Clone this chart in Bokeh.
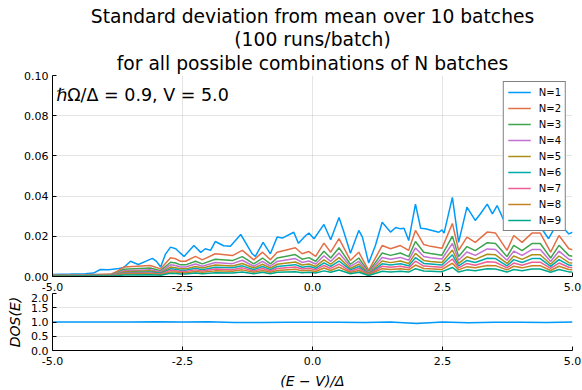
from bokeh.plotting import figure
from bokeh.layouts import column
from bokeh.models import Title, Label, Legend, LegendItem, FixedTicker, NumeralTickFormatter, Range1d
from bokeh.embed import file_html
from bokeh.resources import INLINE

FONT = "DejaVu Sans"

# ---------------- data ----------------
x_n1 = [-5.00, -4.65, -4.37, -4.21, -4.08, -3.92, -3.76, -3.63, -3.50, -3.35, -3.21, -3.08, -3.00,
        -2.92, -2.83, -2.73, -2.63, -2.54, -2.47, -2.28, -2.15, -2.06, -1.96, -1.87, -1.71, -1.58,
        -1.38, -1.29, -1.16, -1.10, -0.95, -0.81, -0.68, -0.58, -0.36, -0.27, -0.13, -0.07, 0.03,
        0.22, 0.35, 0.51, 0.60, 0.73, 0.89, 0.96, 1.08, 1.21, 1.34, 1.50, 1.60, 1.69, 1.76, 1.85,
        1.98, 2.08, 2.17, 2.43, 2.49, 2.53, 2.69, 2.81, 2.97, 3.13, 3.23, 3.36, 3.46, 3.55, 3.68,
        3.81, 3.96, 4.15, 4.35, 4.54, 4.63, 4.74, 4.83, 4.93, 5.00]
n1 = [0.0010, 0.0012, 0.0014, 0.0017, 0.0035, 0.0033, 0.0038, 0.0045, 0.0076, 0.0060, 0.0075, 0.0090, 0.0075,
      0.0047, 0.0110, 0.0146, 0.0138, 0.0116, 0.0100, 0.0154, 0.0120, 0.0138, 0.0130, 0.0174, 0.0153, 0.0150,
      0.0209, 0.0170, 0.0113, 0.0100, 0.0170, 0.0113, 0.0196, 0.0191, 0.0220, 0.0165, 0.0204, 0.0216, 0.0188,
      0.0259, 0.0183, 0.0294, 0.0224, 0.0116, 0.0229, 0.0196, 0.0067, 0.0154, 0.0270, 0.0221, 0.0244, 0.0237, 0.0240, 0.0179,
      0.0360, 0.0240, 0.0238, 0.0220, 0.0232, 0.0216, 0.0394, 0.0170, 0.0345, 0.0279, 0.0312, 0.0360, 0.0312, 0.0353, 0.0279,
      0.0300, 0.0240, 0.0310, 0.0260, 0.0188, 0.0230, 0.0303, 0.0240, 0.0212, 0.0220]

x_n = [-5.00, -4.37, -3.88, -3.76, -3.63, -3.12, -2.92, -2.73, -2.63, -2.54, -2.44, -2.25, -2.12, -1.87,
       -1.54, -1.35, -1.13, -0.96, -0.81, -0.68, -0.33, -0.20, -0.07, 0.06, 0.22, 0.35, 0.51, 0.73, 0.89,
       1.08, 1.34, 1.50, 1.69, 1.85, 1.98, 2.14, 2.27, 2.49, 2.69, 2.81, 2.97, 3.13, 3.36, 3.52, 3.74,
       3.87, 4.03, 4.22, 4.38, 4.58, 4.74, 4.93, 5.00]
n2 = [0.0008, 0.0009, 0.0012, 0.0025, 0.0047, 0.0055, 0.0038, 0.0093, 0.0088, 0.0076, 0.0076, 0.0100, 0.0083, 0.0113,
      0.0104, 0.0130, 0.0083, 0.0121, 0.0083, 0.0121, 0.0143, 0.0113, 0.0124, 0.0100, 0.0166, 0.0121, 0.0188, 0.0080, 0.0121,
      0.0030, 0.0154, 0.0138, 0.0154, 0.0130, 0.0229, 0.0159, 0.0150, 0.0140, 0.0264, 0.0130, 0.0196, 0.0170, 0.0221, 0.0216, 0.0130,
      0.0204, 0.0170, 0.0216, 0.0216, 0.0121, 0.0204, 0.0138, 0.0133]
n3 = [0.0006, 0.0007, 0.0009, 0.0019, 0.0036, 0.0042, 0.0029, 0.0071, 0.0067, 0.0058, 0.0058, 0.0076, 0.0063, 0.0086,
      0.0079, 0.0099, 0.0063, 0.0092, 0.0063, 0.0092, 0.0109, 0.0086, 0.0094, 0.0076, 0.0126, 0.0092, 0.0143, 0.0061, 0.0092,
      0.0023, 0.0117, 0.0105, 0.0117, 0.0099, 0.0174, 0.0121, 0.0114, 0.0106, 0.0201, 0.0099, 0.0149, 0.0129, 0.0168, 0.0164, 0.0099,
      0.0155, 0.0129, 0.0164, 0.0164, 0.0092, 0.0155, 0.0105, 0.0101]
n4 = [0.0005, 0.0006, 0.0007, 0.0016, 0.0029, 0.0034, 0.0024, 0.0058, 0.0055, 0.0047, 0.0047, 0.0062, 0.0051, 0.0070,
      0.0064, 0.0081, 0.0051, 0.0075, 0.0051, 0.0075, 0.0089, 0.0070, 0.0077, 0.0062, 0.0103, 0.0075, 0.0117, 0.0050, 0.0075,
      0.0019, 0.0095, 0.0086, 0.0095, 0.0081, 0.0142, 0.0099, 0.0093, 0.0087, 0.0164, 0.0081, 0.0122, 0.0105, 0.0137, 0.0134, 0.0081,
      0.0126, 0.0105, 0.0134, 0.0134, 0.0075, 0.0126, 0.0086, 0.0082]
n5 = [0.0004, 0.0005, 0.0006, 0.0013, 0.0024, 0.0028, 0.0019, 0.0047, 0.0044, 0.0038, 0.0038, 0.0050, 0.0042, 0.0057,
      0.0052, 0.0065, 0.0042, 0.0061, 0.0042, 0.0061, 0.0072, 0.0057, 0.0062, 0.0050, 0.0083, 0.0061, 0.0094, 0.0040, 0.0061,
      0.0015, 0.0077, 0.0069, 0.0077, 0.0065, 0.0115, 0.0080, 0.0075, 0.0070, 0.0132, 0.0065, 0.0098, 0.0085, 0.0111, 0.0108, 0.0065,
      0.0102, 0.0085, 0.0108, 0.0108, 0.0061, 0.0102, 0.0069, 0.0067]
n6 = [0.0003, 0.0004, 0.0005, 0.0010, 0.0019, 0.0023, 0.0016, 0.0038, 0.0036, 0.0031, 0.0031, 0.0041, 0.0034, 0.0046,
      0.0043, 0.0053, 0.0034, 0.0050, 0.0034, 0.0050, 0.0059, 0.0046, 0.0051, 0.0041, 0.0068, 0.0050, 0.0077, 0.0033, 0.0050,
      0.0012, 0.0063, 0.0057, 0.0063, 0.0053, 0.0094, 0.0065, 0.0062, 0.0057, 0.0108, 0.0053, 0.0080, 0.0070, 0.0091, 0.0089, 0.0053,
      0.0084, 0.0070, 0.0089, 0.0089, 0.0050, 0.0084, 0.0057, 0.0055]
n7 = [0.0003, 0.0003, 0.0004, 0.0008, 0.0016, 0.0018, 0.0013, 0.0031, 0.0029, 0.0025, 0.0025, 0.0033, 0.0027, 0.0037,
      0.0034, 0.0043, 0.0027, 0.0040, 0.0027, 0.0040, 0.0047, 0.0037, 0.0041, 0.0033, 0.0055, 0.0040, 0.0062, 0.0026, 0.0040,
      0.0010, 0.0051, 0.0046, 0.0051, 0.0043, 0.0076, 0.0052, 0.0050, 0.0046, 0.0087, 0.0043, 0.0065, 0.0056, 0.0073, 0.0071, 0.0043,
      0.0067, 0.0056, 0.0071, 0.0071, 0.0040, 0.0067, 0.0046, 0.0044]
n8 = [0.0002, 0.0002, 0.0003, 0.0006, 0.0012, 0.0014, 0.0010, 0.0023, 0.0022, 0.0019, 0.0019, 0.0025, 0.0021, 0.0028,
      0.0026, 0.0033, 0.0021, 0.0030, 0.0021, 0.0030, 0.0036, 0.0028, 0.0031, 0.0025, 0.0042, 0.0030, 0.0047, 0.0020, 0.0030,
      0.0008, 0.0039, 0.0035, 0.0039, 0.0033, 0.0057, 0.0040, 0.0038, 0.0035, 0.0066, 0.0033, 0.0049, 0.0043, 0.0055, 0.0054, 0.0033,
      0.0051, 0.0043, 0.0054, 0.0054, 0.0030, 0.0051, 0.0035, 0.0033]
n9 = [0.0001, 0.0002, 0.0002, 0.0004, 0.0008, 0.0009, 0.0006, 0.0016, 0.0015, 0.0013, 0.0013, 0.0017, 0.0014, 0.0019,
      0.0018, 0.0022, 0.0014, 0.0021, 0.0014, 0.0021, 0.0024, 0.0019, 0.0021, 0.0017, 0.0028, 0.0021, 0.0032, 0.0014, 0.0021,
      0.0005, 0.0026, 0.0023, 0.0026, 0.0022, 0.0039, 0.0027, 0.0026, 0.0024, 0.0045, 0.0022, 0.0033, 0.0029, 0.0038, 0.0037, 0.0022,
      0.0035, 0.0029, 0.0037, 0.0037, 0.0021, 0.0035, 0.0023, 0.0023]

x_dos = [-5.0, -4.5, -4.0, -3.5, -3.0, -2.5, -2.0, -1.5, -1.0, -0.5, 0.0, 0.5, 1.0, 1.5, 2.0, 2.5, 3.0, 3.5, 4.0, 4.5, 5.0]
dos = [1.00, 1.00, 1.00, 1.00, 1.01, 1.00, 1.01, 0.98, 0.98, 0.99, 0.99, 0.99, 0.98, 1.00, 0.95, 1.00, 0.97, 0.99, 0.99, 0.98, 1.00]

labels = ["N=1", "N=2", "N=3", "N=4", "N=5", "N=6", "N=7", "N=8", "N=9"]
colors = ["#009AFA", "#E36F47", "#3EA44E", "#C371D2", "#AC8E18", "#00AAAE", "#ED5E93", "#C68225", "#00A98D"]
x_ticks = [-5.0, -2.5, 0.0, 2.5, 5.0]
y_ticks_top = [0.0, 0.02, 0.04, 0.06, 0.08, 0.10]
y_ticks_bot = [0.0, 0.5, 1.0, 1.5, 2.0]
title_lines = ["Standard deviation from mean over 10 batches", "(100 runs/batch)",
               "for all possible combinations of N batches"]


def style(p, xt, yt, yfmt):
    p.outline_line_color = None
    p.background_fill_color = "white"
    p.border_fill_color = "white"
    p.xaxis.ticker = FixedTicker(ticks=xt)
    p.yaxis.ticker = FixedTicker(ticks=yt)
    p.xaxis.formatter = NumeralTickFormatter(format="0.0")
    p.yaxis.formatter = NumeralTickFormatter(format=yfmt)
    for ax in [p.xaxis[0], p.yaxis[0]]:
        ax.axis_line_color = "black"
        ax.axis_line_width = 1
        ax.major_tick_in = 4
        ax.major_tick_out = 0
        ax.major_tick_line_color = "black"
        ax.minor_tick_line_color = None
        ax.major_label_text_font = FONT
        ax.major_label_text_font_size = "11px"
        ax.major_label_text_color = "black"
        ax.major_label_standoff = 4
        ax.axis_label_text_color = "black"
    p.xaxis[0].major_label_standoff = 6
    for g in [p.xgrid[0], p.ygrid[0]]:
        g.grid_line_color = "black"
        g.grid_line_alpha = 0.1
        g.grid_line_width = 1


top = figure(width=582, height=296, frame_width=520, frame_height=201,
             x_range=Range1d(-5, 5), y_range=Range1d(0, 0.1),
             output_backend="svg", toolbar_location=None, title=None,
             min_border_left=52, min_border_right=10, min_border_top=75, min_border_bottom=0)
style(top, x_ticks, y_ticks_top, "0.00")

# closest line to the plot first
for line, so in zip(reversed(title_lines), [3, 0, 0]):
    top.add_layout(Title(text=line, align="center", text_font=FONT, text_font_size="18.7px",
                         text_font_style="normal", text_color="black", standoff=so, offset=0,
                         text_line_height=1.15), "above")

series = [(x_n1, n1), (x_n, n2), (x_n, n3), (x_n, n4), (x_n, n5), (x_n, n6), (x_n, n7), (x_n, n8), (x_n, n9)]
items = []
for (xs, ys), lab, col in zip(series, labels, colors):
    r = top.line(xs, ys, line_color=col, line_width=1.5)
    items.append(LegendItem(label=lab, renderers=[r]))

legend = Legend(items=items, location="top_right", border_line_color="black", border_line_width=1,
                background_fill_color="white", background_fill_alpha=1.0,
                label_text_font=FONT, label_text_font_size="10px", label_text_color="black",
                glyph_width=23, glyph_height=12, label_height=12, spacing=4, padding=4,
                margin=6, label_standoff=8)
top.add_layout(legend)

top.add_layout(Label(x=-4.93, y=0.0955, text="ℏΩ/Δ = 0.9, V = 5.0", text_font=FONT,
                     text_font_size="17.5px", text_baseline="top", text_color="black"))

bot = figure(width=582, height=94, frame_width=520, frame_height=57,
             x_range=Range1d(-5, 5), y_range=Range1d(0, 2),
             output_backend="svg", toolbar_location=None, title=None,
             min_border_left=52, min_border_right=10, min_border_top=0, min_border_bottom=0)
style(bot, x_ticks, y_ticks_bot, "0.0")
bot.line(x_dos, dos, line_color=colors[0], line_width=1.5)
bot.yaxis.axis_label = "DOS(E)"
bot.yaxis.axis_label_text_font = FONT
bot.yaxis.axis_label_text_font_size = "14px"
bot.yaxis.axis_label_text_font_style = "italic"
bot.yaxis.axis_label_standoff = 5
bot.xaxis.axis_label = "(E − V)/Δ"
bot.xaxis.axis_label_text_font = FONT
bot.xaxis.axis_label_text_font_size = "14px"
bot.xaxis.axis_label_text_font_style = "italic"
bot.xaxis.axis_label_standoff = 5

layout = column(top, bot, spacing=0)
open("out.html", "w").write(file_html(layout, INLINE))
